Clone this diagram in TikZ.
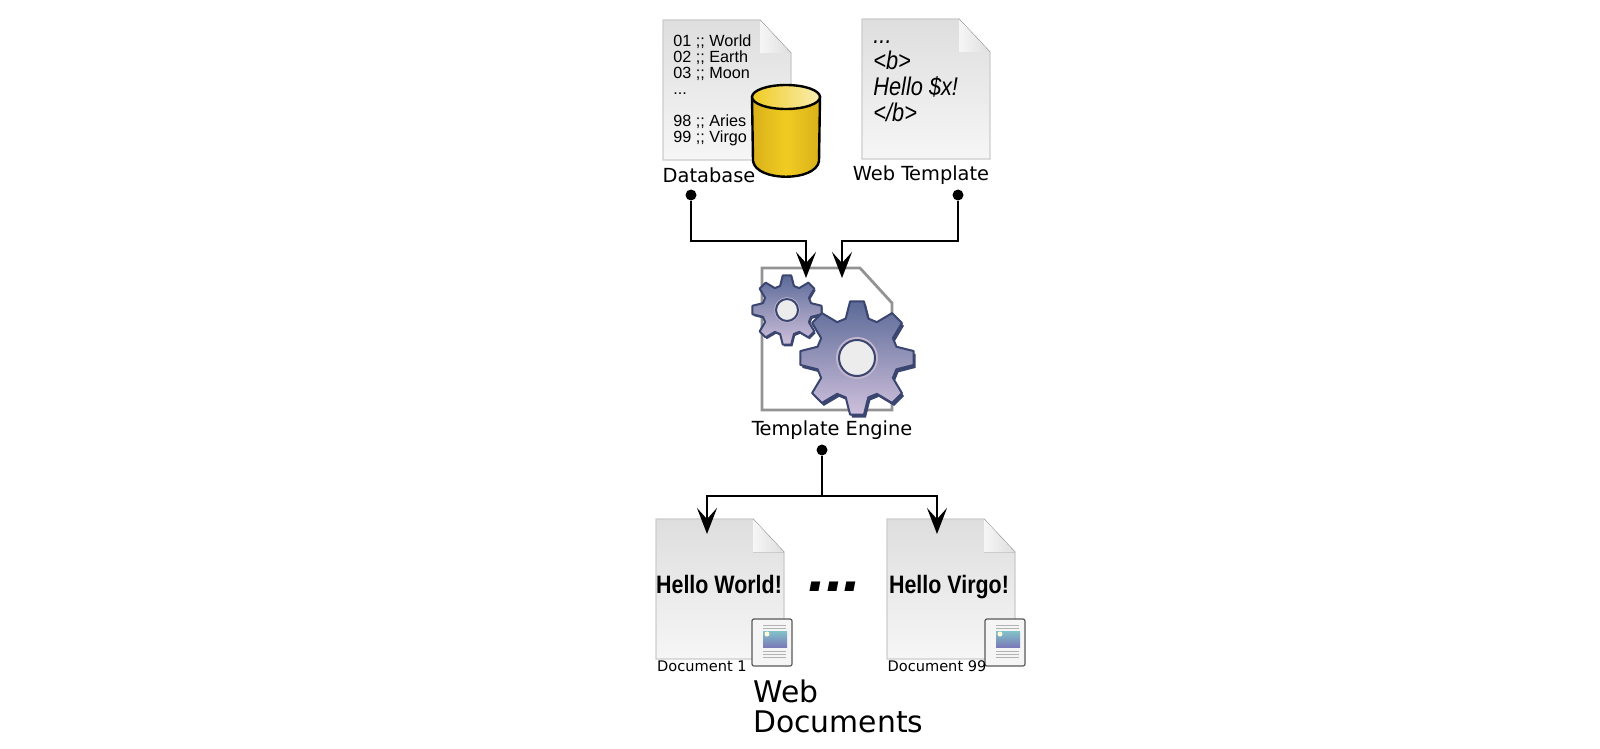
\documentclass[tikz,border=0pt]{standalone}
\usepackage{fontspec}
\setmainfont{DejaVu Sans}
\newfontfamily\listfont{Liberation Sans}
\newfontfamily\tmplfont[FakeStretch=0.85]{Liberation Sans}
\newfontfamily\hellofont[FakeStretch=0.85]{Liberation Sans}
\usetikzlibrary{positioning,arrows.meta}
\definecolor{gearblue}{HTML}{5B6A97}
\definecolor{gearpink}{HTML}{CFC0DC}
\definecolor{geardark}{HTML}{3A4570}
\definecolor{dbgold}{HTML}{F0CC22}
\definecolor{dbdark}{HTML}{D9B01A}
\definecolor{sheetgray}{HTML}{DEDEDE}
\definecolor{sheetpale}{HTML}{F6F6F6}

\begin{document}
\begin{tikzpicture}[
        x=0.5pt, y=-0.5pt,
        label/.style={inner sep=0pt, font=\fontsize{9.7}{11}\selectfont},
        smalllabel/.style={inner sep=0pt, font=\fontsize{7.3}{9}\selectfont},
        hello/.style={inner sep=0pt, anchor=base, font=\hellofont\bfseries\fontsize{12.6}{14}\selectfont},
        dotnode/.style={circle, fill=black, inner sep=0pt, minimum size=5.5pt},
        flow/.style={line width=1.25pt, -{Stealth[length=13pt, width=10pt, inset=5.5pt]}},
        trunk/.style={line width=1.25pt},
        pagesheet/.pic={
            \draw[draw=gray!40, line width=0.6pt, top color=sheetgray, bottom color=sheetpale]
                (0,0) -- (97,0) -- (128,33) -- (128,140) -- (0,140) -- cycle;
            \fill[left color=sheetpale, right color=sheetgray] (97,0) -- (128,33) -- (97,33) -- cycle;
        },
        thumbsheet/.pic={
            \draw[draw=gray!70!black, rounded corners=1pt, line width=0.6pt, fill=gray!8] (0,0) rectangle (40,47);
            \fill[top color=blue!10!cyan!40!gray!70, bottom color=blue!30!gray!80] (11,12) rectangle (35,28);
            \fill[white!85!yellow] (15,15) circle (2.5);
            \foreach \y in {6,9,32,35,38}
                \draw[gray!60, line width=0.5pt] (11,\y) -- (34,\y);
        },
        gearwheel/.pic={
            \fill[geardark, shift={(2,3)}] (74:41)
                \foreach \a in {90,135,...,405} {-- (\a-16:41) -- (\a-7:57) -- (\a+7:57) -- (\a+16:41)} -- cycle;
            \draw[geardark, line width=1pt, line join=round, top color=gearblue, bottom color=gearpink] (74:41)
                \foreach \a in {90,135,...,405} {-- (\a-16:41) -- (\a-7:57) -- (\a+7:57) -- (\a+16:41)} -- cycle;
            \fill[gray!15!gearpink] (0,0) circle (21);
            \draw[geardark, line width=1pt, fill=gray!15] (0,0) circle (18);
        }
    ]
    \useasboundingbox (0,0) rectangle (1600,749);

    % Top row - Database and Web Template
    \pic at (663,20) {pagesheet};
    \pic at (862,19) {pagesheet};
    \node[inner sep=0pt, anchor=north west, align=left, font=\listfont\fontsize{8.1}{8}\selectfont] (dbtext) at (673,34)
        {01 ;; World\\02 ;; Earth\\03 ;; Moon\\...\\[8pt]98 ;; Aries\\99 ;; Virgo};
    \node[inner sep=0pt, anchor=north west, align=left, font=\tmplfont\itshape\fontsize{12.8}{13}\selectfont] (tmpltext) at (873,40)
        {...\\<b>\\Hello \$x!\\</b>};
    \draw[line width=1.2pt, left color=dbdark, right color=dbdark, middle color=dbgold]
        (752,97) -- (753,161) .. controls (756,182) and (816,182) .. (819,161) -- (820,97) -- cycle;
    \draw[line width=1.2pt, left color=dbgold, right color=white!65!dbgold] (786,97) ellipse [x radius=34, y radius=12];
    \node[label] (dblabel) at (709,175) {Database};
    \node[label] (tmpllabel) at (921,175) {Web T\kern-2pt emplate};

    % Middle - Template Engine
    \draw[gray!85, line width=1.4pt] (762,268) -- (860,268) -- (892,303) -- (892,410) -- (762,410) -- cycle;
    \pic[scale=0.61] at (787,310) {gearwheel};
    \pic at (857,358) {gearwheel};
    \node[label] (englabel) at (832,430) {T\kern-2pt emplate Engine};

    % Bottom row - Web Documents
    \pic at (656,519) {pagesheet};
    \pic at (887,519) {pagesheet};
    \pic at (752,619) {thumbsheet};
    \pic at (985,619) {thumbsheet};
    \node[hello] (hello1) at (719,593) {Hello World!};
    \node[hello] (hello2) at (949,593) {Hello Virgo!};
    \node[inner sep=0pt, anchor=base, font=\listfont\bfseries\itshape\fontsize{32}{32}\selectfont] (moredots) at (835,591) {...};
    \node[smalllabel] (doc1label) at (702,666) {Document 1};
    \node[smalllabel] (doc2label) at (937,666) {Document 99};
    \node[inner sep=0pt, anchor=north west, align=left, font=\fontsize{14.9}{15}\selectfont] (weblabel) at (753,679) {Web\\Documents};

    % Connectors
    \node[dotnode] (dbdot) at (691,195) {};
    \node[dotnode] (tmpldot) at (958,195) {};
    \node[dotnode] (engdot) at (822,450) {};
    \coordinate (dbbend) at (806,241);
    \coordinate (dbin) at (806,278);
    \coordinate (tmplbend) at (842,241);
    \coordinate (tmplin) at (842,278);
    \coordinate (split) at (822,496);
    \coordinate (doc1in) at (707,534);
    \coordinate (doc2in) at (937,534);
    \draw[flow] (dbdot) |- (dbbend) -- (dbin);
    \draw[flow] (tmpldot) |- (tmplbend) -- (tmplin);
    \draw[trunk] (engdot) -- (split);
    \draw[flow] (split) -| (doc1in);
    \draw[flow] (split) -| (doc2in);

\end{tikzpicture}
\end{document}
